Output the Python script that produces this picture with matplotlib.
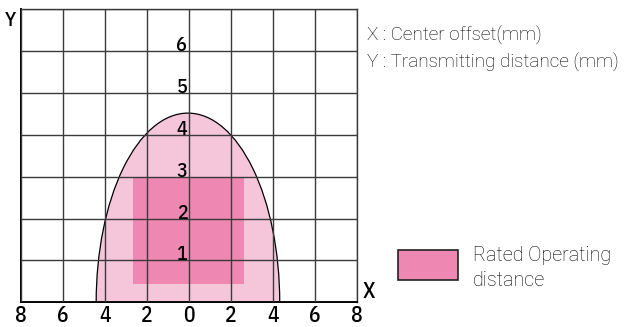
import matplotlib

matplotlib.use("Agg")

import matplotlib.pyplot as plt
from matplotlib.patches import Ellipse, Rectangle

# -----------------------------
# Data
# -----------------------------
x_ticks = [-8, -6, -4, -2, 0, 2, 4, 6, 8]
y_ticks = [1, 2, 3, 4, 5, 6]

# detection area (half ellipse on the X axis)
area_center = (-0.05, 0.0)
area_half_width = 4.37
area_height = 4.52

# rated operating distance block
rated_x = (-2.67, 2.63)
rated_y = (0.44, 3.0)

C_LIGHT = "#F5C6DA"
C_RATED = "#EE87B2"
C_GRID = "#3a3a3a"
C_TXT = "#000000"
NARROW = ["IBM Plex Sans Condensed", "DejaVu Sans"]
LIGHT = ["Roboto", "DejaVu Sans"]

W, H = 625, 327


def fx(px):
    return px / W


def fy(py):
    return 1 - py / H


fig = plt.figure(figsize=(6.25, 3.27), dpi=100)
fig.patch.set_facecolor("white")
ax = fig.add_axes([fx(21), fy(302.3), 336 / W, 293 / H])
ax.set_xlim(-8, 8)
ax.set_ylim(0, 7)

ell = Ellipse(area_center, 2 * area_half_width, 2 * area_height,
              facecolor=C_LIGHT, edgecolor="black", linewidth=0.9, zorder=1)
ax.add_patch(ell)
ax.add_patch(Rectangle((rated_x[0], rated_y[0]), rated_x[1] - rated_x[0],
                       rated_y[1] - rated_y[0], facecolor=C_RATED,
                       edgecolor="none", zorder=2))

# grid on top of the fills
for gx in x_ticks:
    ax.axvline(gx, color=C_GRID, linewidth=1.0, zorder=3)
for gy in range(0, 8):
    ax.axhline(gy, color=C_GRID, linewidth=1.0, zorder=3)

for s in ax.spines.values():
    s.set_color(C_GRID)
    s.set_linewidth(1.0)
ax.spines["bottom"].set_color("black")
ax.spines["bottom"].set_linewidth(1.4)
ax.spines["left"].set_color("black")
ax.spines["left"].set_linewidth(1.4)

ax.set_xticks(x_ticks)
ax.set_xticklabels([str(abs(v)) for v in x_ticks], family=NARROW,
                   fontweight="medium", fontsize=15.5)
ax.set_yticks([])
ax.tick_params(axis="x", length=0, pad=2)

for v in y_ticks:
    ax.text(-0.08, v, str(v), ha="right", va="baseline", family=NARROW,
            fontweight="medium", fontsize=14.5, zorder=4)

fig.text(fx(10.5), fy(26), "Y", ha="center", va="baseline",
         family=NARROW, fontweight="medium", fontsize=14.5)
fig.text(fx(369), fy(298), "X", ha="center", va="baseline",
         family=NARROW, fontweight="medium", fontsize=15.5)

fig.text(fx(367), fy(41), "X : Center offset(mm)", ha="left",
         va="baseline", family=LIGHT, fontweight="light", fontsize=13.6,
         color=C_TXT)
fig.text(fx(367), fy(68), "Y : Transmitting distance (mm)",
         ha="left", va="baseline", family=LIGHT, fontweight="light",
         fontsize=13.6, color=C_TXT)

# legend
fig.patches.append(Rectangle((fx(397.5), fy(280)), 60.5 / W, 30 / H,
                             transform=fig.transFigure, facecolor=C_RATED,
                             edgecolor="#222222", linewidth=1.2))
fig.text(fx(473), fy(261), "Rated Operating", ha="left",
         va="baseline", family=LIGHT, fontweight="light", fontsize=14.2,
         color=C_TXT)
fig.text(fx(473), fy(286), "distance", ha="left", va="baseline",
         family=LIGHT, fontweight="light", fontsize=14.2, color=C_TXT)

plt.savefig("out.png", dpi=100)
